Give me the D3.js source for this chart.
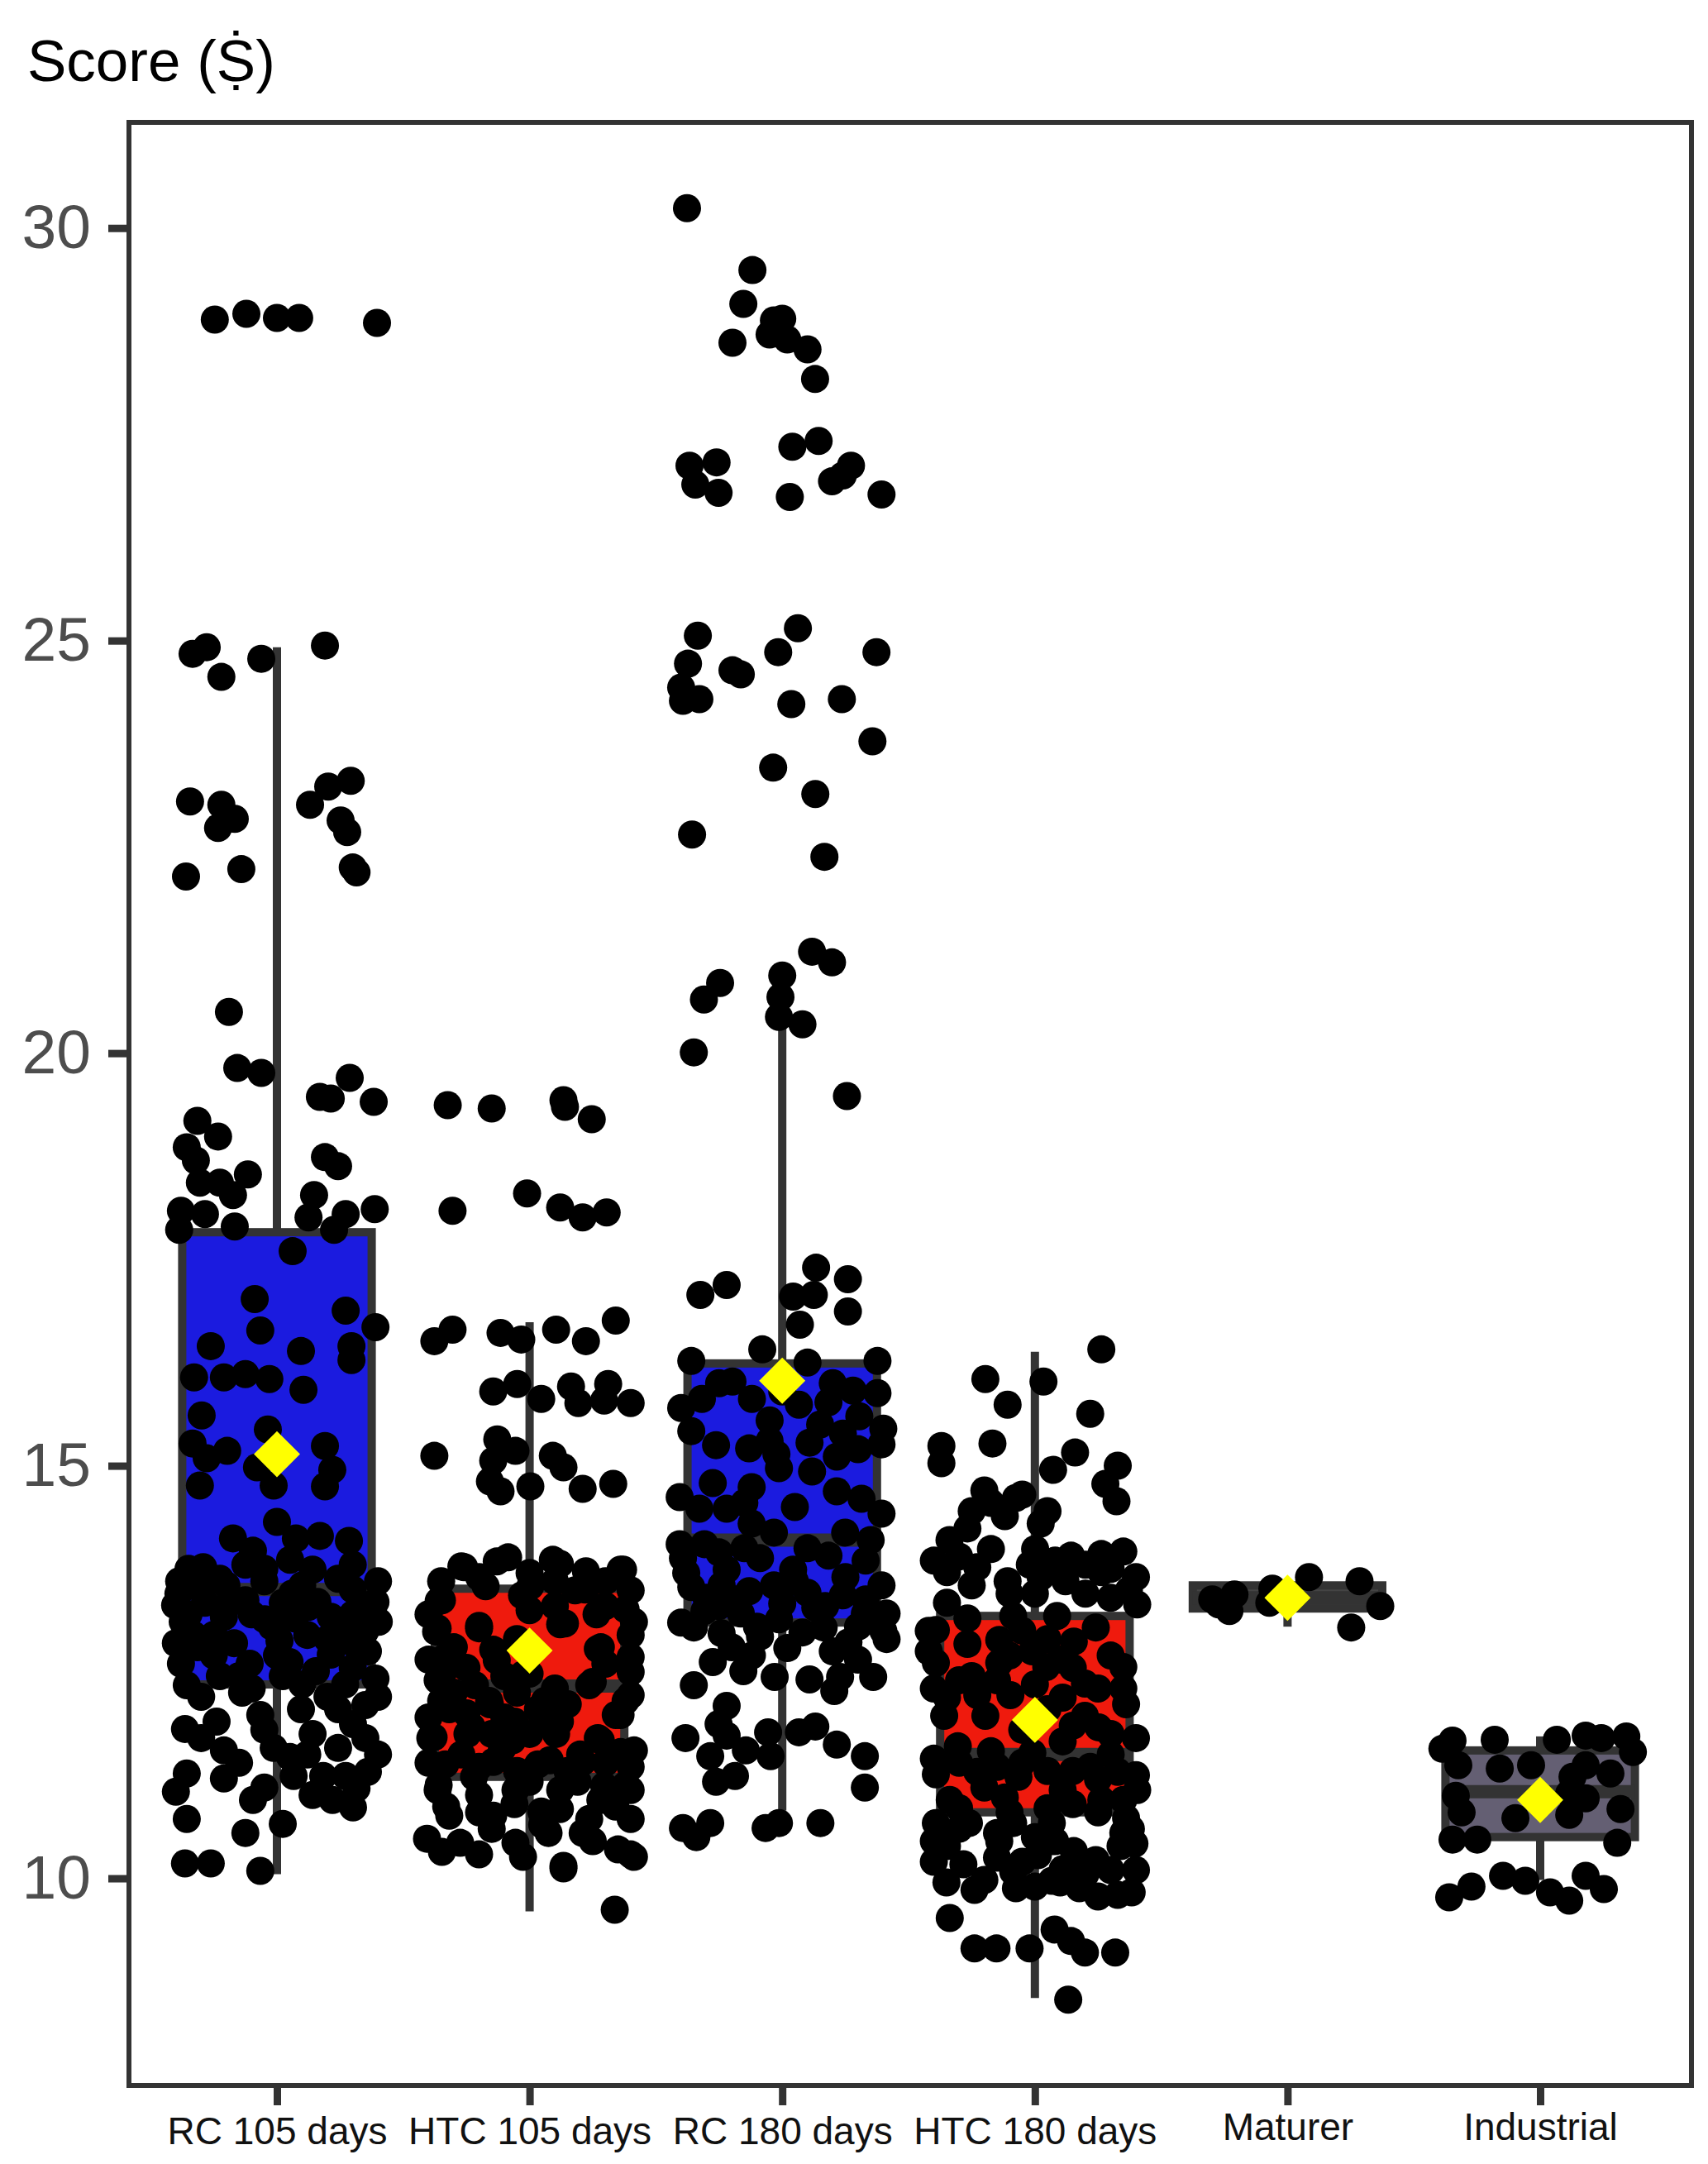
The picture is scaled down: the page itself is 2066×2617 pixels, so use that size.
<!DOCTYPE html>
<html><head><meta charset="utf-8">
<script src="https://cdn.jsdelivr.net/npm/d3@7"></script>
<style>html,body{margin:0;padding:0;background:#fff}</style>
</head><body>
<svg id="chart" width="2066" height="2617"></svg>
<script>
// ---------------- DATA ----------------
const categories = ["RC 105 days", "HTC 105 days", "RC 180 days", "HTC 180 days", "Maturer", "Industrial"];
const yTickValues = [10, 15, 20, 25, 30];
const yTickLabels = ["10", "15", "20", "25", "30"];
const titleText = "Score (\u1E68)";

// box-plot statistics per category
const whiskerLow  = [10.05,  9.60, 10.82,  8.55, 13.05,  9.98];
const q1          = [12.35, 11.23, 13.10, 10.80, 13.27, 10.50];
const median      = [13.50, 12.33, 14.10, 11.50, 13.40, 11.05];
const q3          = [17.83, 13.51, 16.24, 13.18, 13.55, 11.55];
const whiskerHigh = [24.92, 16.74, 20.40, 16.38, 13.62, 11.72];
const means       = [15.14, 12.76, 16.03, 11.92, 13.40, 10.95];

// jittered observations: [horizontal jitter (category units), score]
const rc105Points = [
 [-0.246,28.89],[-0.121,28.96],[0.0,28.91],[0.088,28.91],[0.396,28.85],
 [-0.334,24.84],[-0.278,24.92],[-0.22,24.56],[-0.062,24.78],[0.19,24.94],
 [-0.344,23.05],[-0.22,23.01],[-0.167,22.84],[-0.233,22.73],[-0.36,22.14],[-0.141,22.23],
 [0.131,23.01],[0.203,23.23],[0.292,23.30],[0.252,22.82],[0.278,22.68],[0.315,22.19],[0.30,22.25],
 [-0.19,20.50],[-0.157,19.82],[-0.062,19.76],[0.288,19.70],[0.17,19.47],[0.213,19.45],[0.383,19.41],
 [-0.315,19.18],[-0.233,18.99],[-0.357,18.86],[-0.321,18.70],[-0.115,18.53],[0.19,18.74],[0.242,18.63],
 [-0.305,18.43],[-0.226,18.43],[-0.174,18.28],[0.147,18.28],[-0.38,18.09],[-0.285,18.05],[0.125,18.01],[0.272,18.05],[0.387,18.11],
 [-0.167,17.90],[-0.387,17.86],[0.226,17.86],
 [0.062,17.60],[-0.088,17.02],[0.272,16.88],[0.39,16.68],[-0.066,16.64],[-0.262,16.45],[0.095,16.39],[0.295,16.45],[0.295,16.28],
 [-0.328,16.07],[-0.21,16.07],[-0.125,16.11],[-0.03,16.05],[0.105,15.92],[-0.298,15.61],[-0.036,15.44],[-0.334,15.27],[-0.197,15.18],[-0.278,15.09],[0.19,15.24],
 [-0.079,14.98],[0.219,14.95],[-0.305,14.76],[-0.013,14.76],[0.19,14.75],
 [0.0,14.32],[-0.174,14.12],[0.075,14.12],[0.17,14.15],[0.285,14.09],[-0.095,13.97],
 [-0.292,13.77],[-0.125,13.80],[0.052,13.86],[0.141,13.74],[-0.387,13.60],[-0.226,13.63],[0.242,13.63],
 [-0.403,13.31],[-0.285,13.34],[-0.125,13.37],[0.023,13.34],[0.125,13.29],[0.344,13.29],
 [-0.373,13.11],[-0.21,13.17],[-0.049,13.14],[0.213,13.17],[0.403,13.11],
 [-0.315,12.80],[0.01,12.88],[0.301,12.85],[-0.108,12.60],[0.213,12.71],
 [-0.357,12.34],[-0.226,12.45],[0.023,12.45],[0.154,12.51],[0.39,12.42],[-0.138,12.25],
 [0.095,12.05],[-0.066,11.98],[0.242,12.05],[-0.364,11.81],[-0.239,11.90],[0.141,11.75],[0.301,11.87],
 [-0.21,11.55],[-0.013,11.58],[0.052,11.47],[0.242,11.58],
 [-0.357,11.27],[-0.21,11.21],[0.066,11.24],[0.183,11.24],[0.272,11.24],[0.36,11.29],
 [0.141,11.01],[0.315,11.09],[-0.095,10.95],[-0.357,10.72],[-0.125,10.55],[0.023,10.66],[0.301,10.86],
 [-0.364,10.18],[-0.262,10.18],[-0.066,10.09],
 [-0.39,13.45],[-0.30,13.50],[-0.20,13.30],[-0.05,13.60],[0.06,13.45],[0.16,13.35],[0.30,13.50],[0.39,13.35],
 [-0.33,12.95],[-0.17,12.85],[-0.02,13.05],[0.12,12.95],[0.25,13.00],[0.36,12.75],[-0.38,12.60],[-0.25,12.70],
 [0.05,12.62],[0.30,12.55],[0.40,12.20],[-0.10,12.30],[0.20,12.20],
 [-0.35,13.75],[-0.05,13.75],[0.30,13.80],[0.40,13.60],[-0.20,13.55],[0.10,13.55],[-0.35,13.20],[-0.10,13.20],[0.30,13.20],[0.07,13.15],
 [-0.25,12.95],[0.00,12.70],[0.20,12.90],[0.35,13.00],[-0.40,12.85],[-0.15,12.45],[0.10,12.35],[0.27,12.35],[-0.30,12.20],[0.35,12.10],
 [-0.30,11.70],[-0.05,11.80],[0.35,11.70],[-0.15,11.40],[0.12,11.50],[0.40,11.50],[-0.40,11.05],[-0.05,11.10],[0.22,10.95]
];

const htc105Points = [
 [-0.324,19.37],[-0.15,19.33],[0.134,19.43],[0.246,19.20],[0.14,19.35],
 [-0.305,18.09],[-0.01,18.30],[0.121,18.13],[0.21,18.01],[0.305,18.07],
 [-0.377,16.51],[-0.305,16.65],[-0.115,16.61],[-0.033,16.53],[0.105,16.65],[0.223,16.51],[0.341,16.76],
 [-0.144,15.90],[-0.049,15.99],[0.046,15.81],[0.164,15.96],[0.193,15.76],[0.311,15.99],[0.295,15.79],[0.40,15.76],
 [-0.377,15.12],[-0.128,15.32],[-0.144,15.06],[-0.056,15.18],[0.092,15.12],[0.134,14.98],[-0.157,14.81],[0.003,14.75],[-0.115,14.69],[0.21,14.72],[0.331,14.78],
 [-0.259,13.77],[-0.085,13.89],[0.092,13.86],[0.223,13.72],[0.37,13.74],
 [-0.347,13.37],[-0.174,13.54],[0.003,13.54],[0.18,13.49],[0.40,13.49],
 [-0.364,13.03],[-0.20,13.06],[0.121,13.08],[0.265,13.20],[0.413,13.11],
 [-0.334,12.68],[-0.144,12.77],[0.282,12.80],[0.40,12.68],
 [-0.364,12.40],[-0.216,12.34],[-0.026,12.47],[0.236,12.34],[0.40,12.22],
 [-0.318,12.05],[-0.157,12.11],[0.033,12.05],[0.151,12.11],[0.341,11.98],
 [-0.393,11.70],[-0.246,11.75],[-0.069,11.67],[0.105,11.75],[0.282,11.67],[0.413,11.55],
 [-0.334,11.38],[-0.144,11.41],[0.033,11.38],[0.21,11.41],
 [-0.364,11.07],[-0.20,11.01],[-0.056,11.07],[0.121,11.07],[0.295,11.12],[0.40,11.07],
 [-0.318,10.76],[-0.144,10.76],[0.046,10.81],[0.236,10.72],[0.40,10.72],
 [-0.406,10.48],[-0.275,10.43],[-0.056,10.43],[0.075,10.55],[0.21,10.55],
 [-0.347,10.32],[-0.20,10.29],[-0.026,10.26],[0.134,10.15],[0.413,10.26],
 [-0.27,13.78],[-0.13,13.84],[0.12,13.81],[0.36,13.74],[-0.36,13.36],[-0.03,13.43],[0.22,13.50],[0.38,13.26],
 [-0.37,12.99],[-0.20,13.03],[0.14,13.09],[0.27,12.78],[-0.34,12.51],[-0.13,12.64],[0.0,12.48],
 [-0.35,12.15],[-0.16,12.15],[0.06,12.15],[0.25,12.38],[0.38,12.15],[0.36,11.98],
 [-0.38,11.71],[-0.23,11.84],[-0.06,11.90],[0.12,11.90],[0.27,11.70],
 [-0.27,11.50],[-0.11,11.56],[0.08,11.43],[0.36,11.53],
 [-0.36,11.13],[-0.22,11.23],[0.0,11.17],[0.19,11.17],[0.38,11.13],
 [-0.33,10.87],[-0.06,10.90],[0.12,10.84],[0.34,10.87],
 [0.337,9.62],[0.134,10.12],[0.40,10.29],
 [-0.35,13.60],[-0.20,13.65],[0.00,13.70],[0.10,13.60],[0.30,13.60],[-0.40,13.20],[0.00,13.25],[0.10,13.30],[0.30,13.30],[0.40,12.95],
 [-0.30,12.80],[-0.05,12.90],[-0.40,12.65],[-0.25,12.55],[-0.10,12.45],[0.30,12.60],[0.40,12.50],[-0.30,12.25],[-0.05,12.25],[0.10,12.30],
 [-0.40,11.95],[-0.25,12.00],[-0.10,11.95],[0.05,11.95],[0.00,11.75],[-0.15,11.75],[0.20,11.50],[0.30,11.40],[0.15,11.30],[-0.20,11.35],
 [-0.40,11.40],[-0.05,11.30],[0.40,11.35],[0.28,10.95],[-0.20,10.80],[0.05,10.65],[0.25,10.45],[-0.15,10.60],[0.35,10.35]
];

const rc180Points = [
 [-0.377,30.24],[-0.118,29.49],[-0.154,29.08],[-0.197,28.61],[-0.033,28.88],[0.0,28.90],[-0.05,28.71],[0.02,28.65],[0.10,28.53],[0.13,28.17],
 [-0.367,27.12],[-0.26,27.16],[-0.344,26.89],[-0.252,26.79],[0.04,27.35],[0.144,27.42],[0.03,26.74],[0.197,26.93],[0.272,27.12],[0.393,26.77],[0.24,27.00],
 [-0.334,25.06],[-0.373,24.72],[-0.40,24.43],[-0.393,24.27],[-0.328,24.29],[-0.197,24.64],[-0.164,24.59],[0.062,25.15],[-0.016,24.86],[0.373,24.86],[0.036,24.23],[0.236,24.29],[0.357,23.78],[-0.036,23.46],[0.131,23.14],[-0.357,22.65],[0.167,22.38],
 [0.118,21.23],[0.197,21.10],[0.0,20.94],[-0.246,20.85],[-0.31,20.65],[-0.007,20.68],[-0.013,20.44],[0.08,20.35],[-0.35,20.01],[0.256,19.48],
 [-0.324,17.07],[-0.22,17.19],[0.134,17.40],[0.26,17.26],[0.043,17.05],[0.125,17.07],[0.26,16.87],[0.07,16.71],[-0.079,16.41],[-0.36,16.27],[0.10,16.25],[0.377,16.27],
 [-0.318,15.81],[-0.197,16.02],[-0.12,15.81],[0.066,15.74],[0.183,15.77],[0.28,15.91],[0.377,15.88],[0.305,15.60],
 [-0.36,15.42],[-0.262,15.25],[-0.131,15.21],[-0.023,15.14],[0.108,15.28],[0.24,15.39],[0.393,15.26],[0.216,15.11],
 [-0.013,14.97],[0.118,14.93],
 [-0.275,14.79],[-0.121,14.74],[-0.406,14.62],[-0.22,14.48],[0.216,14.69],[0.314,14.60],[0.393,14.42],[-0.328,14.48],
 [-0.121,14.30],[-0.033,14.19],[0.249,14.19],[-0.406,14.05],[-0.308,14.05],
 [-0.393,13.88],[-0.088,13.88],[0.183,13.91],[-0.22,13.74],[0.043,13.74],
 [-0.36,13.53],[-0.24,13.55],[-0.131,13.48],[-0.033,13.55],[0.10,13.46],[0.24,13.43],[0.393,13.55],
 [-0.308,13.24],[-0.164,13.21],[-0.013,13.14],[0.131,13.28],[0.327,13.21],[0.413,13.21],
 [-0.35,13.04],[-0.24,12.97],[-0.088,12.93],[0.02,12.79],[0.164,13.04],[0.262,12.86],[0.413,12.90],
 [-0.275,12.62],[-0.154,12.51],[-0.03,12.44],[0.108,12.41],[0.229,12.44],[0.36,12.44],[-0.35,12.34],[0.206,12.27],
 [-0.22,12.09],
 [-0.383,11.70],[-0.285,11.48],[-0.22,11.73],[-0.144,11.55],[-0.056,11.77],[-0.046,11.48],[0.066,11.77],[0.131,11.84],[0.216,11.62],[0.327,11.48],[-0.252,11.87],
 [-0.262,11.17],[-0.187,11.24],[0.327,11.10],
 [-0.393,10.61],[-0.285,10.67],[-0.066,10.61],[-0.013,10.67],[0.151,10.67],[-0.34,10.50],
 [-0.30,13.40],[-0.18,13.38],[0.0,13.33],[0.17,13.30],[0.33,13.38],[-0.40,13.10],[-0.10,13.05],[0.08,12.98],[0.30,13.05],[-0.20,12.80],[0.20,12.75],
 [-0.05,15.30],[0.30,15.20],[0.33,13.85],[-0.25,13.95],
 [-0.25,16.00],[0.00,15.90],[0.20,16.00],[-0.40,15.70],[-0.05,15.55],[0.15,15.50],[0.40,15.45],[-0.15,14.55],[0.05,14.50],[0.35,14.10],
 [-0.15,14.00],[0.10,14.00],[-0.38,13.70],[0.25,13.65],[0.05,13.60],[-0.25,13.30],[0.40,13.00],[-0.12,12.70],[0.30,12.65]
];

const htc180Points = [
 [0.263,16.41],[-0.196,16.05],[0.034,16.02],[-0.108,15.74],[0.219,15.63],[-0.37,15.24],[-0.37,15.03],[-0.168,15.27],[0.159,15.16],[0.072,14.95],[0.328,15.00],[0.279,14.78],[0.323,14.57],
 [-0.174,14.55],[-0.075,14.61],[-0.119,14.39],[0.023,14.30],[-0.267,14.24],[-0.338,14.10],[-0.174,13.99],[0.001,13.99],[0.143,13.91],[0.263,13.93],[0.35,13.96],
 [-0.348,13.71],[-0.228,13.77],[-0.108,13.60],[0.023,13.65],[0.121,13.60],[0.263,13.71],[0.372,13.49],[-0.348,13.34],[0.405,13.32],
 [-0.392,13.01],[-0.267,13.15],[-0.086,13.18],[0.088,13.18],[0.241,13.04],
 [-0.267,12.84],[-0.141,12.89],[-0.01,12.75],[0.154,12.87],[-0.392,12.61],[-0.141,12.61],[0.045,12.56],[0.35,12.56],
 [-0.348,12.19],[-0.228,12.22],[-0.097,12.22],[0.11,12.19],[0.198,12.36],[0.361,12.11],
 [-0.359,11.97],[-0.196,11.97],[0.198,11.97],[0.252,11.83],
 [-0.305,11.60],[-0.174,11.54],[-0.01,11.52],[0.11,11.66],
 [-0.392,11.26],[-0.228,11.29],[-0.065,11.23],[0.219,11.35],[0.328,11.29],[0.405,11.07],
 [-0.337,10.95],[-0.119,10.98],[0.11,11.07],[0.263,10.95],
 [-0.392,10.67],[-0.261,10.67],[-0.086,10.67],[0.067,10.67],[0.361,10.73],
 [-0.348,10.39],[-0.141,10.45],[0.012,10.28],[0.154,10.33],[0.339,10.39],[0.394,10.42],
 [-0.283,10.17],[-0.086,10.08],[0.11,10.11],[0.241,10.22],
 [-0.239,9.86],[-0.075,9.88],[0.067,9.97],[0.176,9.88],[0.328,9.80],[0.383,9.83],
 [-0.337,9.52],[-0.239,9.15],[-0.152,9.15],[-0.021,9.15],[0.078,9.38],[0.143,9.24],[0.198,9.10],[0.318,9.10],[0.132,8.53],
 [-0.30,11.40],[-0.05,11.40],[0.15,11.30],[0.30,11.50],[-0.20,11.10],[0.05,10.85],[0.25,10.80],[-0.35,10.55],[-0.15,10.55],
 [-0.05,10.20],[0.30,10.10],[0.10,9.95],[-0.35,9.95],[0.38,10.60],[-0.10,13.45],[0.30,12.70],[-0.25,12.45],[0.15,12.55],
 [-0.20,14.70],[-0.05,14.65],[0.05,14.45],[-0.25,14.45],
 [-0.40,13.85],[-0.30,13.90],[-0.02,13.80],[0.08,13.85],[0.20,13.80],[0.30,13.75],[0.40,13.65],[-0.25,13.55],[0.00,13.45],[0.20,13.45],[0.30,13.40],
 [-0.42,13.00],[-0.42,12.75],[-0.05,13.00],[0.05,12.90],[-0.10,12.70],[0.10,12.65],[-0.30,12.40],[-0.15,12.40],[0.00,12.35],[0.25,12.30],
 [0.35,12.30],[-0.40,12.30],[0.05,12.05],[0.15,11.85],[-0.05,11.80],[0.30,11.75],[0.40,11.70],
 [-0.40,11.45],[-0.15,11.35],[0.05,11.30],[0.25,11.20],[0.40,11.25],[-0.30,10.85],[-0.10,10.80],[0.15,10.90],[0.35,10.95],
 [-0.40,10.45],[-0.30,10.60],[0.00,10.50],[0.08,10.45],[0.35,10.55],[-0.40,10.20],[-0.15,10.25],[0.20,10.05],[0.40,10.10],[-0.20,9.98],[0.00,9.90],[0.25,9.78]
];

const maturerPoints = [
 [-0.298,13.38],[-0.21,13.44],[-0.23,13.24],[-0.06,13.51],[-0.072,13.34],[0.085,13.65],[0.285,13.60],[0.367,13.30],[0.252,13.04],[-0.272,13.32]
];

const industrialPoints = [
 [-0.387,11.57],[-0.347,11.67],[-0.324,11.37],[-0.18,11.68],[-0.16,11.33],[-0.036,11.37],[0.066,11.68],[0.18,11.73],[0.242,11.70],[0.341,11.72],[0.367,11.53],[0.278,11.27],[0.128,11.23],[0.18,10.97],
 [-0.334,11.00],[-0.311,10.80],[-0.098,10.73],[0.115,10.77],[0.318,10.84],[-0.347,10.47],[-0.249,10.47],[0.305,10.43],
 [-0.36,9.77],[-0.272,9.90],[-0.147,10.03],[-0.059,9.97],[0.039,9.83],[0.115,9.73],[0.18,10.03],[0.252,9.87],
 [0.18,11.37],[0.115,11.03]
];

const pointsByGroup = [rc105Points, htc105Points, rc180Points, htc180Points, maturerPoints, industrialPoints];

// ---------------- STYLE ----------------
const boxFill = ["#1b1bdf", "#ef1a0d", "#1b1bdf", "#ef1a0d", "#444444", "#645f73"];
const lineCol = "#333333";
const font = "'Liberation Sans', Arial, Helvetica, sans-serif";

// ---------------- CHART ----------------
const svg = d3.select("#chart");
svg.append("rect").attr("width", 2066).attr("height", 2617).attr("fill", "#fff");

const panel = {left: 156, top: 148, right: 2046, bottom: 2522};
const x = d3.scalePoint().domain(categories).range([335, 1863]);
const unit = x.step();
const y = d3.scaleLinear().domain([7.49, 31.28]).range([panel.bottom, panel.top]);
const boxW = 0.75 * unit;

// title
svg.append("text").attr("x", 33).attr("y", 98)
  .attr("font-family", font).attr("font-size", 71).attr("fill", "#000")
  .text(titleText);

const g = svg.append("g");

// boxes
categories.forEach((c, i) => {
  const cx = x(c);
  const bg = g.append("g");
  bg.append("line").attr("x1", cx).attr("x2", cx).attr("y1", y(q3[i])).attr("y2", y(whiskerHigh[i]))
    .attr("stroke", lineCol).attr("stroke-width", 10);
  bg.append("line").attr("x1", cx).attr("x2", cx).attr("y1", y(q1[i])).attr("y2", y(whiskerLow[i]))
    .attr("stroke", lineCol).attr("stroke-width", 10);
  bg.append("rect").attr("x", cx - boxW / 2).attr("width", boxW)
    .attr("y", y(q3[i])).attr("height", y(q1[i]) - y(q3[i]))
    .attr("fill", boxFill[i]).attr("stroke", lineCol).attr("stroke-width", 10);
  bg.append("line").attr("x1", cx - boxW / 2).attr("x2", cx + boxW / 2)
    .attr("y1", y(median[i])).attr("y2", y(median[i]))
    .attr("stroke", lineCol).attr("stroke-width", 16);
});

// jittered points
categories.forEach((c, i) => {
  g.append("g").selectAll("circle").data(pointsByGroup[i]).join("circle")
    .attr("cx", d => x(c) + d[0] * unit)
    .attr("cy", d => y(d[1]))
    .attr("r", 17)
    .attr("fill", "#000");
});

// mean diamonds
const diamond = d3.symbol().type(d3.symbolSquare).size(1560);
g.append("g").selectAll("path").data(categories).join("path")
  .attr("d", diamond)
  .attr("transform", (c, i) => `translate(${x(c)},${y(means[i])}) rotate(45)`)
  .attr("fill", "#ffff00");

// panel border
svg.append("rect").attr("x", panel.left).attr("y", panel.top)
  .attr("width", panel.right - panel.left).attr("height", panel.bottom - panel.top)
  .attr("fill", "none").attr("stroke", lineCol).attr("stroke-width", 6);

// y axis
const yAxis = svg.append("g").attr("transform", `translate(${panel.left},0)`)
  .call(d3.axisLeft(y).tickValues(yTickValues).tickFormat((d, i) => yTickLabels[i]).tickSize(25).tickPadding(21));
yAxis.select(".domain").remove();
yAxis.selectAll(".tick line").attr("stroke", lineCol).attr("stroke-width", 9);
yAxis.selectAll(".tick text").attr("font-family", font).attr("font-size", 75).attr("fill", "#4d4d4d");

// x axis
const xAxis = svg.append("g").attr("transform", `translate(0,${panel.bottom})`)
  .call(d3.axisBottom(x).tickSize(24).tickPadding(14));
xAxis.select(".domain").remove();
xAxis.selectAll(".tick line").attr("stroke", lineCol).attr("stroke-width", 9);
xAxis.selectAll(".tick text").attr("font-family", font).attr("font-size", 46).attr("fill", "#111")
  .attr("dy", (d, i) => i >= 4 ? "0.6em" : "0.71em");
</script>
</body></html>
